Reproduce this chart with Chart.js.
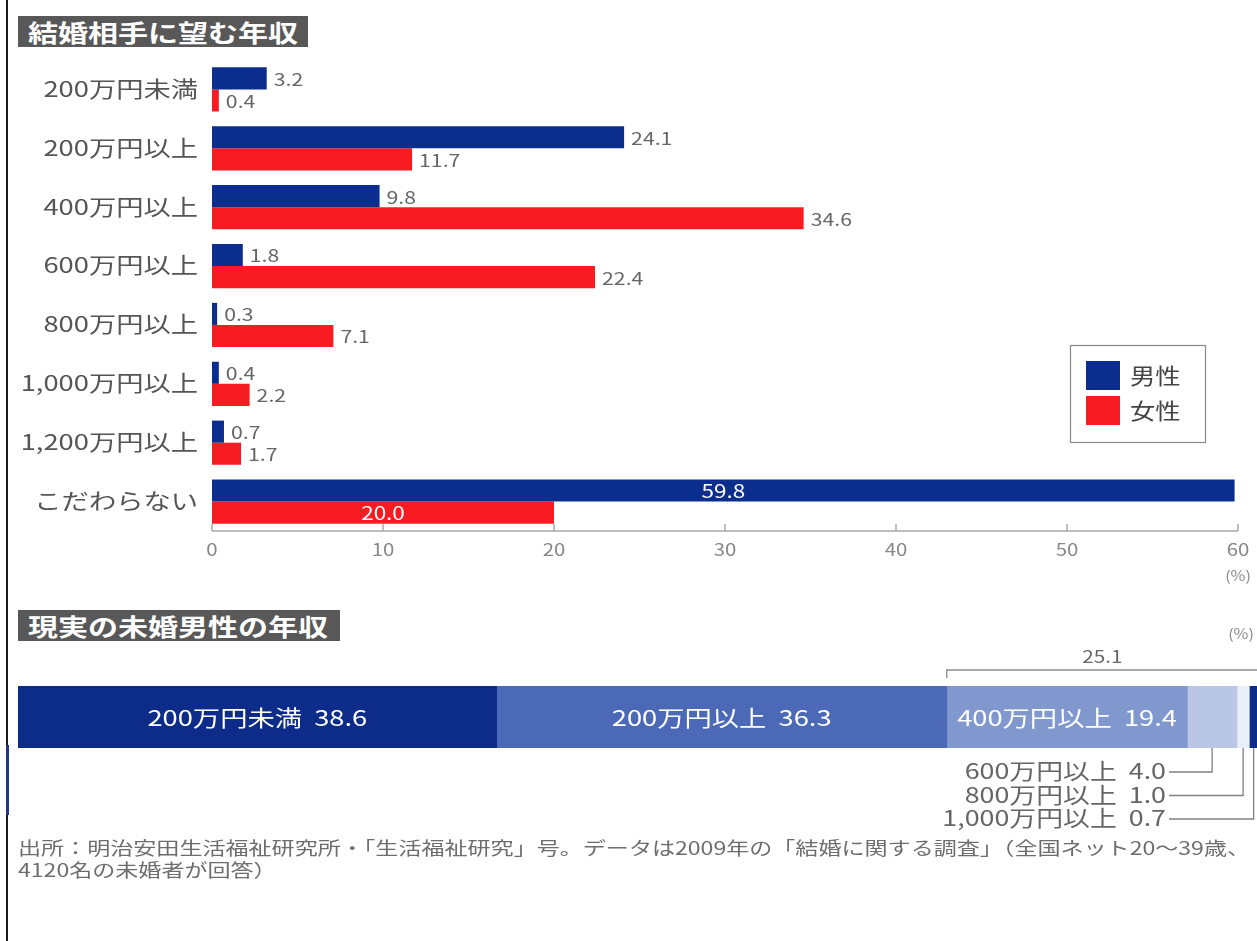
<!DOCTYPE html>
<html lang="ja">
<head>
<meta charset="utf-8">
<title>結婚相手に望む年収</title>
<script src="https://cdn.jsdelivr.net/npm/chart.js@4.4.1/dist/chart.umd.min.js"></script>
<style>
html,body{margin:0;padding:0;width:1257px;height:941px;overflow:hidden;background:#fff;}
body{position:relative;font-family:"Noto Sans CJK JP","Noto Sans",sans-serif;}
canvas{position:absolute;left:0;}
#wish{top:0;width:1257px;height:600px;}
#actual{top:600px;width:1270px;height:250px;}
.heading{position:absolute;left:18px;height:31px;background:#585858;color:#fff;font-weight:700;font-size:24px;line-height:31px;padding-left:10px;box-sizing:border-box;overflow:hidden;white-space:nowrap;z-index:2;}
.heading span{display:inline-block;transform:scaleX(1.25);transform-origin:0 50%;}
#h1{top:16px;width:290px;}
#h2{top:610px;width:322px;}
.edge{position:absolute;left:6px;top:0;width:2px;height:941px;background:#1b1b1b;}
.edge-blue{position:absolute;left:6px;top:745px;width:3px;height:70px;background:#24358a;}
#note{position:absolute;left:18px;top:836px;font-size:18px;color:#6d6d6d;line-height:22px;white-space:nowrap;transform-origin:0 0;}
#note span{display:inline-block;}
</style>
</head>
<body>
<div class="edge"></div>
<div class="edge-blue"></div>
<div class="heading" id="h1"><span>結婚相手に望む年収</span></div>
<div class="heading" id="h2"><span>現実の未婚男性の年収</span></div>
<canvas id="wish" width="1257" height="600"></canvas>
<canvas id="actual" width="1270" height="250"></canvas>
<div id="note"><span id="noteLine1">出所：明治安田生活福祉研究所・「生活福祉研究」号。データは2009年の「結婚に関する調査」（全国ネット20～39歳、</span><br><span>4120名の未婚者が回答）</span></div>
<script>
// 結婚相手に望む年収 (%)
const categories = ['200万円未満', '200万円以上', '400万円以上', '600万円以上', '800万円以上', '1,000万円以上', '1,200万円以上', 'こだわらない'];
const maleShare = [3.2, 24.1, 9.8, 1.8, 0.3, 0.4, 0.7, 59.8];
const femaleShare = [0.4, 11.7, 34.6, 22.4, 7.1, 2.2, 1.7, 20.0];
const seriesNames = ['男性', '女性'];
const axisTicks = [0, 10, 20, 30, 40, 50, 60];

// 現実の未婚男性の年収 (%)
const incomeBands = ['200万円未満', '200万円以上', '400万円以上', '600万円以上', '800万円以上', '1,000万円以上'];
const actualShare = [38.6, 36.3, 19.4, 4.0, 1.0, 0.7];

const seriesColors = ['#0b2e8e', '#f81c22'];
const bandColors = ['#0d2c8a', '#4b69b6', '#8198cf', '#b9c6e5', '#e9eef8', '#0d2c8a'];
const FONT = '"Noto Sans CJK JP", "Noto Sans", sans-serif';

// Text drawn slightly widened, like the printed original type.
function wideText(ctx, text, x, y, align, px, color, weight, sx) {
  ctx.save();
  ctx.font = (weight || 400) + ' ' + px + 'px ' + FONT;
  ctx.fillStyle = color;
  ctx.textAlign = align;
  ctx.textBaseline = 'middle';
  ctx.translate(x, y);
  ctx.scale(sx || 1.25, 1);
  ctx.fillText(text, 0, 0);
  ctx.restore();
}

function line(ctx, pts, color, w) {
  ctx.save();
  ctx.strokeStyle = color;
  ctx.lineWidth = w;
  ctx.beginPath();
  pts.forEach((p, i) => i ? ctx.lineTo(p[0], p[1]) : ctx.moveTo(p[0], p[1]));
  ctx.stroke();
  ctx.restore();
}

const wishDecor = {
  id: 'wishDecor',
  afterDatasetsDraw(chart) {
    const ctx = chart.ctx;
    const lastRow = chart.data.labels.length - 1;
    chart.data.datasets.forEach((ds, di) => {
      chart.getDatasetMeta(di).data.forEach((bar, i) => {
        const v = ds.data[i];
        if (i === lastRow) {
          // こだわらない: value written inside the bar
          wideText(ctx, v.toFixed(1), (bar.base + bar.x) / 2, bar.y + 1, 'center', 18, '#ffffff', 400, 1.25);
        } else {
          wideText(ctx, v.toFixed(1), bar.x + 7, bar.y + 1, 'left', 17, '#666666', 400, 1.25);
        }
      });
    });
  },
  afterDraw(chart) {
    const ctx = chart.ctx;
    const xs = chart.scales.x, ys = chart.scales.y, area = chart.chartArea;
    // category labels
    chart.data.labels.forEach((c, i) => {
      wideText(ctx, c, area.left - 14, ys.getPixelForValue(i) - 1, 'right', 22, '#555555', 400, 1.24);
    });
    // value axis with inward ticks
    line(ctx, [[area.left, area.bottom], [area.right, area.bottom]], '#a8a8a8', 1.5);
    axisTicks.forEach(v => {
      const x = xs.getPixelForValue(v);
      line(ctx, [[x, area.bottom], [x, area.bottom - 7]], '#a8a8a8', 1.5);
      wideText(ctx, String(v), x, area.bottom + 19, 'center', 17, '#888888', 400, 1.2);
    });
    wideText(ctx, '(%)', xs.getPixelForValue(60), area.bottom + 45, 'center', 14, '#888888', 400, 1.15);
    // legend
    const lx = 1070, ly = 345;
    ctx.save();
    ctx.strokeStyle = '#8a8a8a';
    ctx.lineWidth = 1.2;
    ctx.strokeRect(lx + 0.5, ly + 0.5, 135, 97);
    chart.data.datasets.forEach((ds, di) => {
      ctx.fillStyle = ds.backgroundColor;
      ctx.fillRect(lx + 16, ly + 16 + di * 35, 34, 29);
      wideText(ctx, ds.label, lx + 60, ly + 31 + di * 35, 'left', 22, '#444444', 400, 1.15);
    });
    ctx.restore();
  }
};

new Chart(document.getElementById('wish'), {
  type: 'bar',
  data: {
    labels: categories,
    datasets: [
      { label: seriesNames[0], data: maleShare, backgroundColor: seriesColors[0] },
      { label: seriesNames[1], data: femaleShare, backgroundColor: seriesColors[1] }
    ]
  },
  options: {
    indexAxis: 'y',
    responsive: false,
    animation: false,
    devicePixelRatio: 1,
    layout: { padding: { left: 212, right: 19, top: 60, bottom: 69 } },
    datasets: { bar: { barPercentage: 1, categoryPercentage: 0.75, borderWidth: 0 } },
    scales: {
      x: { display: false, min: 0, max: 60 },
      y: { display: false }
    },
    plugins: { legend: { display: false }, tooltip: { enabled: false } }
  },
  plugins: [wishDecor]
});

const actualDecor = {
  id: 'actualDecor',
  afterDatasetsDraw(chart) {
    const ctx = chart.ctx;
    const area = chart.chartArea;
    const seg = i => chart.getDatasetMeta(i).data[0];
    // labels inside the wide segments
    for (let i = 0; i < 3; i++) {
      const b = seg(i);
      wideText(ctx, incomeBands[i] + '  ' + actualShare[i].toFixed(1), (b.base + b.x) / 2, b.y + 1, 'center', 22, '#ffffff', 400, 1.24);
    }
    // bracket over 400万円以上 and above
    const x0 = seg(2).base, x1 = seg(5).x;
    const by = area.top - 16;
    line(ctx, [[x0, by + 8], [x0, by], [x1, by], [x1, by + 8]], '#8a8a8a', 1.3);
    const upper = actualShare.slice(2).reduce((a, b) => a + b, 0);
    wideText(ctx, upper.toFixed(1), (x0 + x1) / 2, by - 13, 'center', 17, '#666666', 400, 1.22);
    wideText(ctx, '(%)', 1241, 34, 'center', 14, '#888888', 400, 1.15);
    // leader lines for the narrow segments
    for (let i = 3; i < 6; i++) {
      const b = seg(i);
      const cx = (b.base + b.x) / 2;
      const y = area.bottom + 23 + (i - 3) * 23.5;
      wideText(ctx, incomeBands[i] + '  ' + actualShare[i].toFixed(1), 1166, y, 'right', 22, '#666666', 400, 1.22);
      line(ctx, [[1169, y + 1], [cx, y + 1], [cx, area.bottom]], '#808080', 1.3);
    }
  }
};

new Chart(document.getElementById('actual'), {
  type: 'bar',
  data: {
    labels: ['現実の未婚男性'],
    datasets: actualShare.map((v, i) => ({ label: incomeBands[i], data: [v], backgroundColor: bandColors[i] }))
  },
  options: {
    indexAxis: 'y',
    responsive: false,
    animation: false,
    devicePixelRatio: 1,
    layout: { padding: { left: 18, right: 12, top: 86, bottom: 102 } },
    datasets: { bar: { barPercentage: 1, categoryPercentage: 1, borderWidth: 0 } },
    scales: {
      x: { display: false, stacked: true, min: 0, max: 100 },
      y: { display: false, stacked: true }
    },
    plugins: { legend: { display: false }, tooltip: { enabled: false } }
  },
  plugins: [actualDecor]
});

// source note fitted to the page width
const note = document.getElementById('note');
const w1 = document.getElementById('noteLine1').getBoundingClientRect().width;
note.style.transform = 'scaleX(' + (1232 / w1) + ')';
</script>
</body>
</html>
